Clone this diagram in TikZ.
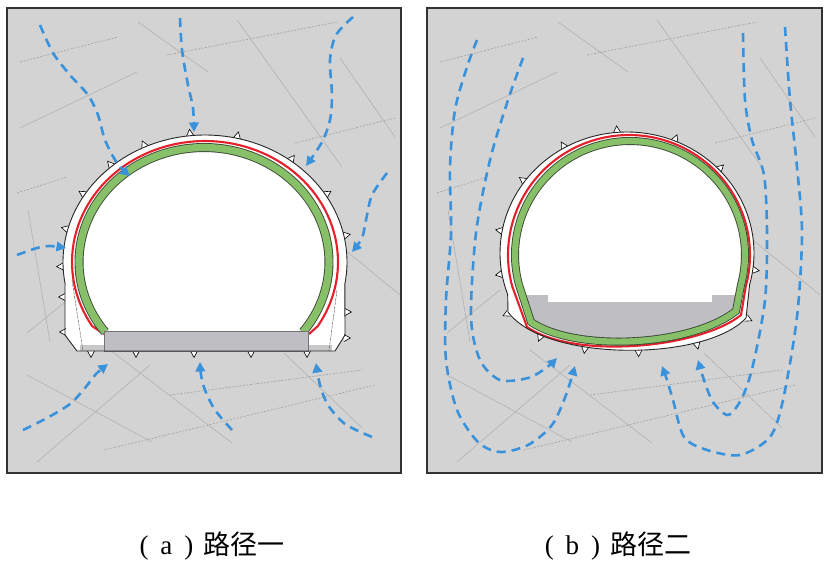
\documentclass[tikz,border=0pt]{standalone}
\usepackage{fontspec}
\setmainfont{Liberation Serif}
\newfontfamily\cjk{Noto Sans CJK SC}
\usetikzlibrary{calc,arrows.meta,decorations.markings}
\definecolor{bgc}{HTML}{D3D3D3}
\definecolor{flowc}{HTML}{3A92DB}
\definecolor{redc}{HTML}{E5202B}
\definecolor{greenc}{HTML}{88C06A}
\definecolor{greenedge}{HTML}{3A4A34}
\definecolor{slabc}{HTML}{BFBEC3}
\definecolor{crackc}{HTML}{B2B2B2}
\definecolor{stripc}{HTML}{C8C8C8}
\tikzset{
  panel/.style={fill=bgc, draw=black!80, line width=1.2pt},
  crack/.style={draw=crackc, line width=0.6pt},
  crackd/.style={draw=crackc!90!black, line width=0.6pt, dash pattern=on 2pt off 1.5pt},
  flow/.style={draw=flowc, line width=2.6pt, dash pattern=on 9pt off 6pt,
    -{Triangle[length=9.5pt,width=9.5pt]}},
  spike/.style={fill=white, draw=black, line width=0.6pt, line join=miter},
  outl/.style={draw=black!85, line width=0.9pt, line join=round},
  redline/.style={draw=redc, line width=2.1pt},
  gedge/.style={draw=greenedge, line width=9pt},
  gfill/.style={draw=greenc, line width=7.2pt},
  caption/.style={font=\fontsize{27}{30}\selectfont, inner sep=0pt},
}
\newcommand\bsp{\draw[spike] (-3.5pt,0pt) -- (0pt,6.5pt) -- (3.5pt,0pt);}
\newcommand\spk[3]{\draw[spike] ($({#1},{#2})+({#3+90}:3.5)$) -- ($({#1},{#2})+({#3}:6.5)$) -- ($({#1},{#2})+({#3-90}:3.5)$);}
\newcommand\cracks{%
  \draw[crack] (138,22) -- (208,72);
  \draw[crack] (237,20) -- (342,167);
  \draw[crack] (20,128) -- (137,72);
  \draw[crack] (340,58) -- (395,137);
  \draw[crack] (28,210) -- (50,342);
  \draw[crack] (27,333) -- (80,290);
  \draw[crack] (333,240) -- (400,295);
  \draw[crack] (27,375) -- (152,442);
  \draw[crack] (37,462) -- (150,365);
  \draw[crack] (110,350) -- (232,443);
  \draw[crack] (284,353) -- (362,428);
  \draw[crackd] (20,62) -- (118,37);
  \draw[crackd] (167,55) -- (337,22);
  \draw[crackd] (295,143) -- (395,118);
  \draw[crackd] (17,193) -- (67,177);
  \draw[crackd] (170,395) -- (362,370);
  \draw[crackd] (104,450) -- (375,385);
}
% panel (b) closed shapes
\newcommand\outlb{plot[domain=200:-15,samples=90] ({627+127*cos(\x)},{253-121*sin(\x)}) -- (746,318) .. controls (705,362) and (545,362) .. (508,312) -- cycle}
\newcommand\redb{plot[domain=195:-15,samples=90] ({629+121*cos(\x)},{255-120*sin(\x)}) -- (741,315) .. controls (700,348) and (575,360) .. (527,327) -- cycle}
\newcommand\greenb{plot[domain=195:-15,samples=90] ({630+115*cos(\x)},{255-114*sin(\x)}) -- (736,311) .. controls (690,347) and (575,352) .. (531,322) -- cycle}
\begin{document}
\begin{tikzpicture}[x=1pt,y=-1pt]
\useasboundingbox (0,0) rectangle (827,573);
% panels
\draw[panel] (7,8) rectangle (401,473);
\draw[panel] (427,8) rectangle (822,473);
\begin{scope}
  \clip (7,8) rectangle (401,473);
  \cracks
\end{scope}
\begin{scope}[shift={(420,0)}]
  \clip (7,8) rectangle (402,473);
  \cracks
\end{scope}

% ================= panel (a) =================
\fill[white] (77,351) -- (65,335) -- (65,284)
  -- plot[domain=190:-10,samples=90] ({205+142*cos(\x)},{262-127*sin(\x)})
  -- (345,335) -- (335,351) -- cycle;
\foreach \t in {182,165,148,131,115,96,77,53,32,12} {\spk{205+142*cos(\t)}{262-127*sin(\t)}{-\t}}
\spk{65}{297}{180}
\spk{66}{332}{180}
\spk{345}{312}{0}
\spk{344}{338}{0}
\foreach \bx in {91,136,194,251,307} {\spk{\bx}{351}{90}}
\fill[stripc] (80,345) rectangle (104,351);
\fill[stripc] (308,345) rectangle (332,351);
\draw[black!60, line width=0.5pt, dash pattern=on 3pt off 1pt] (72,280) -- (83,351);
\draw[black!60, line width=0.5pt, dash pattern=on 3pt off 1pt] (337,290) -- (329,351);
\draw[redline] (104,334) -- plot[domain=212:-32,samples=90] ({205+133*cos(\x)},{262-121*sin(\x)}) -- (309,334);
\draw[gedge] plot[domain=217.7:-37.7,samples=90] ({204+125*cos(\x)},{262-114.5*sin(\x)});
\draw[gfill] plot[domain=217.7:-37.7,samples=90] ({204+125*cos(\x)},{262-114.5*sin(\x)});
\filldraw[fill=slabc, draw=black!55, line width=0.6pt] (104,331) rectangle (308,351);
\draw[outl] (77,351) -- (65,335) -- (65,284)
  -- plot[domain=190:-10,samples=90] ({205+142*cos(\x)},{262-127*sin(\x)})
  -- (345,335) -- (335,351) -- cycle;

% ================= panel (b) =================
\fill[white] \outlb;
\foreach \t in {190,169.5,143.7,119.5,94.5,68,43.7,-8} {\spk{627+127*cos(\t)}{253-121*sin(\t)}{-\t}}
\spk{746}{318}{25}
\spk{509}{313}{155}
\path[decorate, decoration={markings,
    mark=at position 0.22 with {\bsp},
    mark=at position 0.45 with {\bsp},
    mark=at position 0.66 with {\bsp},
    mark=at position 0.84 with {\bsp}}]
  (746,318) .. controls (705,362) and (545,362) .. (508,312);
\draw[redline] \redb;
\begin{scope}
  \clip \greenb;
  \fill[slabc] (500,295) -- (548,295) -- (548,302) -- (712,302) -- (712,295) -- (760,295) -- (760,360) -- (500,360) -- cycle;
\end{scope}
\draw[gedge, line width=8pt] \greenb;
\draw[gfill, line width=6.2pt] \greenb;
\draw[outl] \outlb;

% ================= flow arrows (a) =================
\draw[flow] plot[smooth] coordinates {(40,25) (53,53) (70,75) (88,95) (98,115) (105,140) (117,163) (130,176)};
\draw[flow] plot[smooth] coordinates {(180,18) (182,50) (188,85) (193,108) (194,132)};
\draw[flow] plot[smooth] coordinates {(353,17) (336,35) (330,60) (332,95) (330,120) (322,142) (306,166)};
\draw[flow] plot[smooth] coordinates {(387,173) (372,195) (366,220) (362,238) (352,252)};
\draw[flow] plot[smooth] coordinates {(17,255) (37,248) (50,246) (66,248)};
\draw[flow] plot[smooth] coordinates {(23,430) (47,418) (70,404) (85,388) (96,374) (108,364)};
\draw[flow] plot[smooth] coordinates {(232,430) (215,410) (205,390) (201,375) (200,362)};
\draw[flow] plot[smooth] coordinates {(372,437) (345,424) (328,405) (320,385) (316,363)};
% ================= flow arrows (b) =================
\draw[flow] plot[smooth] coordinates {(477,40) (467,67) (455,110) (450,167) (451,233) (446,300) (446,360) (457,410) (478,442) (500,452) (528,445) (552,425) (566,395) (575,366)};
\draw[flow] plot[smooth] coordinates {(523,58) (508,100) (490,160) (476,233) (471,317) (480,360) (500,380) (528,378) (546,368) (557,358)};
\draw[flow] plot[smooth] coordinates {(743,33) (745,100) (752,140) (764,175) (767,233) (765,300) (753,365) (742,398) (728,415) (713,402) (704,380) (698,360)};
\draw[flow] plot[smooth] coordinates {(785,27) (790,100) (797,167) (802,233) (797,317) (783,400) (770,437) (740,455) (707,450) (684,437) (673,400) (667,380) (662,366)};

% captions
\node[caption] (capa) at (212,546) {(\hspace{12pt}a\hspace{12pt})\hspace{10pt}{\cjk 路径一}};
\node[caption] (capb) at (618,546) {(\hspace{12pt}b\hspace{12pt})\hspace{10pt}{\cjk 路径二}};
\end{tikzpicture}
\end{document}
